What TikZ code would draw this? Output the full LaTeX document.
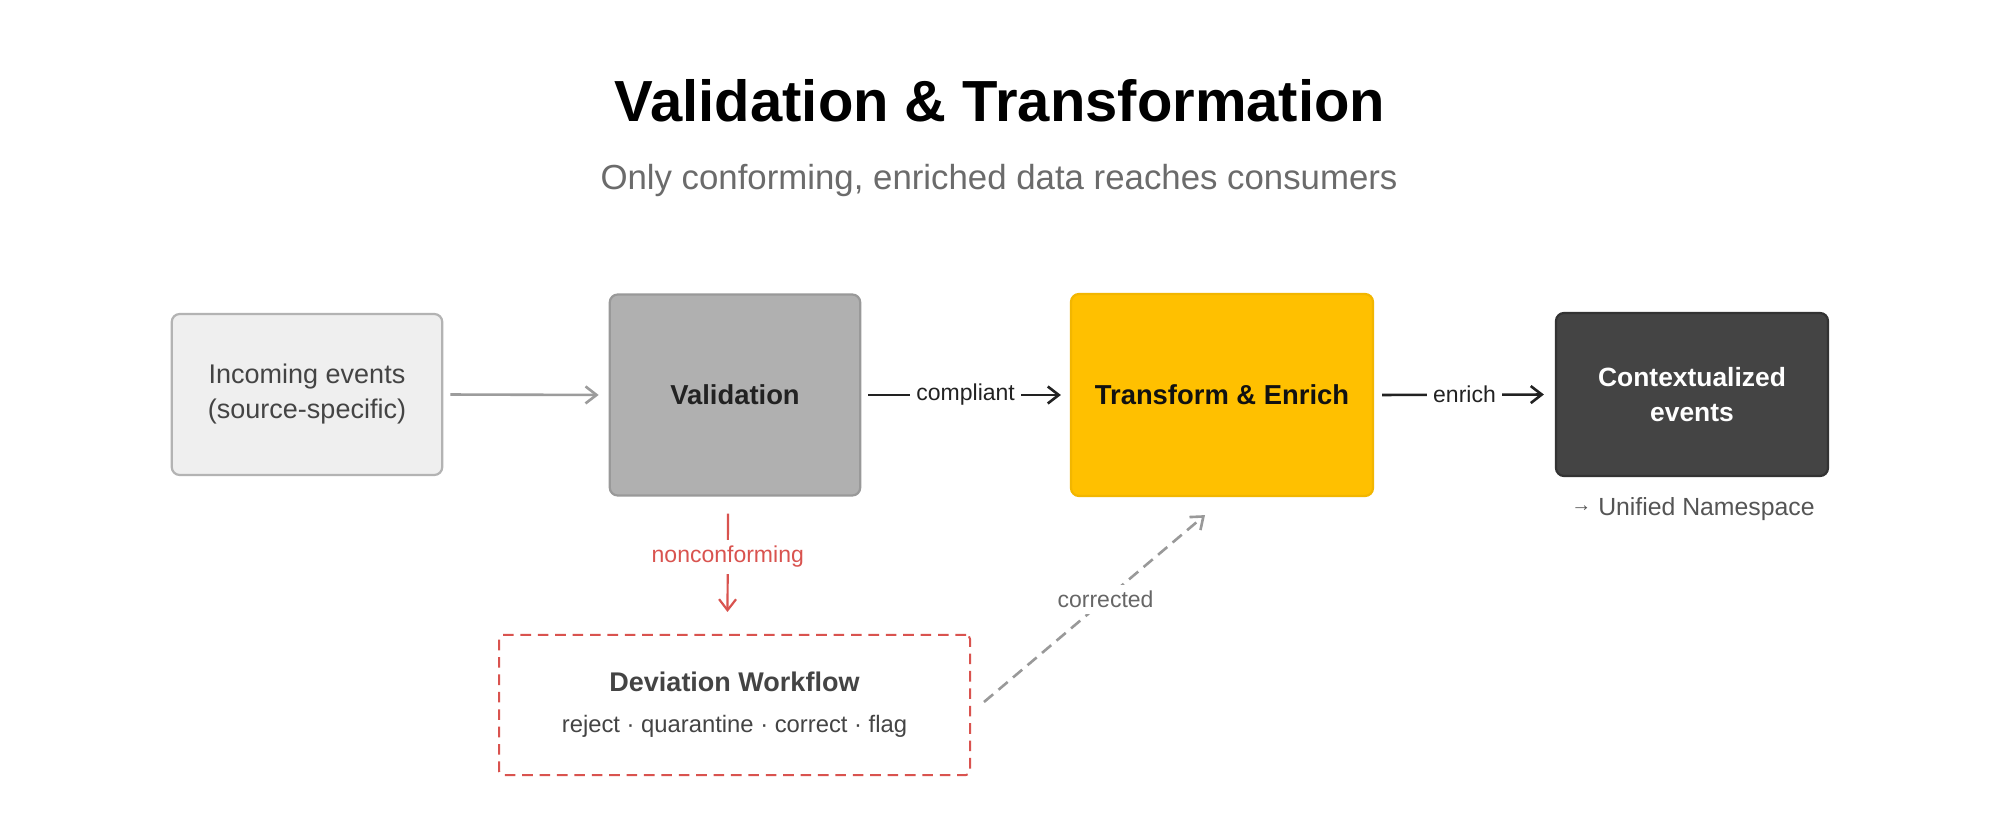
\documentclass[tikz,border=0pt]{standalone}
\usepackage{fontspec}
\setmainfont{Liberation Sans}
\usetikzlibrary{arrows.meta,calc}
\definecolor{incfill}{HTML}{EFEFEF}
\definecolor{incdraw}{HTML}{B3B3B3}
\definecolor{inctext}{HTML}{444444}
\definecolor{valfill}{HTML}{B0B0B0}
\definecolor{valdraw}{HTML}{999999}
\definecolor{valtext}{HTML}{222222}
\definecolor{trfill}{HTML}{FFC000}
\definecolor{trdraw}{HTML}{F2B600}
\definecolor{trtext}{HTML}{111111}
\definecolor{ctxfill}{HTML}{444444}
\definecolor{ctxdraw}{HTML}{333333}
\definecolor{arrgray}{HTML}{9C9C9C}
\definecolor{darkline}{HTML}{222222}
\definecolor{devred}{HTML}{D9534F}
\definecolor{corrline}{HTML}{999999}
\definecolor{corrtext}{HTML}{666666}
\definecolor{subgray}{HTML}{6B6B6B}
\definecolor{unstext}{HTML}{555555}
\begin{document}
\begin{tikzpicture}[x=0.5pt,y=-0.5pt,
  box/.style={rounded corners=4pt, line width=1.1pt, align=center, inner sep=0pt,
    font=\fontsize{13.5}{17.5}\selectfont},
  arr/.style={-{Straight Barb[length=5.5pt,width=8.5pt]}, line width=1.3pt},
  lab/.style={fill=white, inner sep=3pt, font=\fontsize{11.5}{14}\selectfont}]
\useasboundingbox[fill=white] (0,0) rectangle (1999,839);

\node[anchor=base, font=\fontsize{29}{34}\selectfont\bfseries] (title) at (1000,122) {Validation \& Transformation};
\node[anchor=base, text=subgray, font=\fontsize{17.4}{20}\selectfont] (sub) at (999,190) {Only conforming, enriched data reaches consumers};

\node[box, fill=incfill, draw=incdraw, text=inctext, minimum width=135.25pt, minimum height=80.5pt] (inc) at (307,394.5) {Incoming events\\(source-specific)};
\node[box, fill=valfill, draw=valdraw, text=valtext, minimum width=125.25pt, minimum height=100.5pt, font=\fontsize{13.7}{17.5}\selectfont\bfseries] (val) at (735,395) {Validation};
\node[box, fill=trfill, draw=trdraw, text=trtext, minimum width=151pt, minimum height=101pt, font=\fontsize{13.7}{17.5}\selectfont\bfseries] (trans) at (1222,395) {Transform \& Enrich};
\node[box, fill=ctxfill, draw=ctxdraw, text=white, minimum width=136pt, minimum height=81.5pt, font=\fontsize{13.2}{17.5}\selectfont\bfseries] (ctx) at (1692,394.5) {Contextualized\\events};
\node[anchor=base, text=unstext, font=\fontsize{12.4}{15}\selectfont] (uns) at (1693,516) {\raisebox{2pt}{\fontsize{10}{15}\selectfont →} Unified Namespace};

\node[draw=devred, dash pattern=on 5.3pt off 3.4pt, line width=1pt, rounded corners=2pt,
  minimum width=235.5pt, minimum height=70pt, align=center, inner sep=0pt, text=inctext,
  font=\fontsize{13.5}{20.5}\selectfont] (dev) at (734.5,705)
  {\textbf{Deviation Workflow}\\{\fontsize{11.9}{20.5}\selectfont reject · quarantine · correct · flag}};

\draw[arr, draw=arrgray, shorten <=3.5pt, shorten >=5pt] (inc.east) -- (val.west);
\draw[arr, draw=darkline, shorten <=3.5pt, shorten >=4.5pt] (val.east) -- node[lab, text=darkline]{compliant} (trans.west);
\draw[arr, draw=darkline, shorten <=4pt, shorten >=5.5pt] (trans.east) -- node[lab, text=darkline]{enrich} (ctx.west);
\draw[arr, draw=devred, line width=1.1pt] ([xshift=-3.5pt,yshift=-8.5pt]val.south) -- node[lab, text=devred, pos=0.44]{nonconforming} ([xshift=-3.5pt,yshift=11pt]dev.north);
\draw[arr, draw=corrline, line width=1.3pt, dash pattern=on 6pt off 3.5pt] ([xshift=6.5pt,yshift=1.5pt]dev.east) -- node[lab, text=corrtext, pos=0.55]{corrected} ([xshift=-8.5pt,yshift=-9pt]trans.south);
\end{tikzpicture}
\end{document}
